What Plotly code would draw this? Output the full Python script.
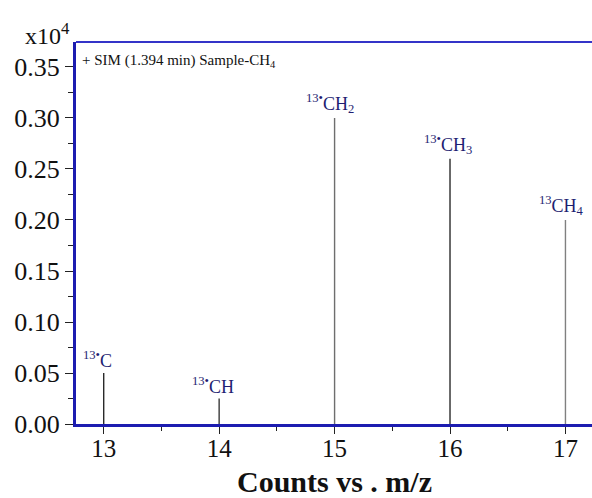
import plotly.graph_objects as go

mz = [13, 14, 15, 16, 17]
counts = [0.05, 0.025, 0.30, 0.26, 0.20]  # x10^4
labels = ["<sup>13•</sup>C", "<sup>13•</sup>CH", "<sup>13•</sup>CH<sub>2</sub>",
          "<sup>13•</sup>CH<sub>3</sub>", "<sup>13</sup>CH<sub>4</sub>"]
stem_colors = ["#2a2a2a", "#3a3a3a", "#6e6e6e", "#2a2a2a", "#808080"]
label_shift = [-6, -6, -5, -2, -4]

serif = "Liberation Serif, Times New Roman, serif"
navy = "#1e1e72"

fig = go.Figure()
for x, y, c in zip(mz, counts, stem_colors):
    fig.add_trace(go.Scatter(x=[x, x], y=[0, y], mode="lines",
                             line=dict(color=c, width=1.4), showlegend=False,
                             hoverinfo="skip"))

for x, y, t, s in zip(mz, counts, labels, label_shift):
    fig.add_annotation(x=x, y=y, text=t, showarrow=False, xanchor="center",
                       yanchor="bottom", xshift=s, yshift=0,
                       font=dict(family=serif, size=18, color=navy))

fig.add_annotation(xref="paper", yref="paper", x=0, y=1, xshift=4, yshift=-8,
                   text="+ SIM (1.394 min) Sample-CH<sub>4</sub>", showarrow=False,
                   xanchor="left", yanchor="top",
                   font=dict(family=serif, size=15, color="#111111"))

fig.add_annotation(xref="paper", yref="paper", x=0, y=1, xshift=-4, yshift=-9,
                   text="x10<sup>4</sup>", showarrow=False, xanchor="right",
                   yanchor="bottom", font=dict(family=serif, size=24, color="#111111"))

fig.add_annotation(xref="paper", yref="paper", x=0.5, y=0, yshift=-57,
                   text="<b>Counts vs . m/z</b>", showarrow=False,
                   xanchor="center", yanchor="middle",
                   font=dict(family=serif, size=30, color="#111111"))

fig.add_shape(type="line", xref="paper", yref="paper", x0=0, x1=1, y0=1, y1=1,
              line=dict(color="#3434c8", width=2))

fig.update_layout(
    width=592, height=498,
    margin=dict(l=76, r=0, t=42, b=74),
    paper_bgcolor="white", plot_bgcolor="white",
    xaxis=dict(range=[12.76, 17.23], tickvals=mz, ticks="outside", ticklen=7,
               tickcolor="#222", showgrid=False, zeroline=False,
               showline=True, linecolor="#1c1cb0", linewidth=3,
               ticklabelstandoff=-7,
               tickfont=dict(family=serif, size=25, color="#111111"),
               minor=dict(dtick=0.5, ticks="outside", ticklen=4, tickcolor="#222")),
    yaxis=dict(range=[0, 0.3745], dtick=0.05, tickformat=".2f", ticks="outside",
               ticklen=8, tickcolor="#222", showgrid=False, zeroline=False,
               showline=True, linecolor="#1c1cb0", linewidth=3,
               tickfont=dict(family=serif, size=26, color="#111111"),
               minor=dict(dtick=0.025, ticks="outside", ticklen=5, tickcolor="#222")),
)

fig.write_html("out.html")
